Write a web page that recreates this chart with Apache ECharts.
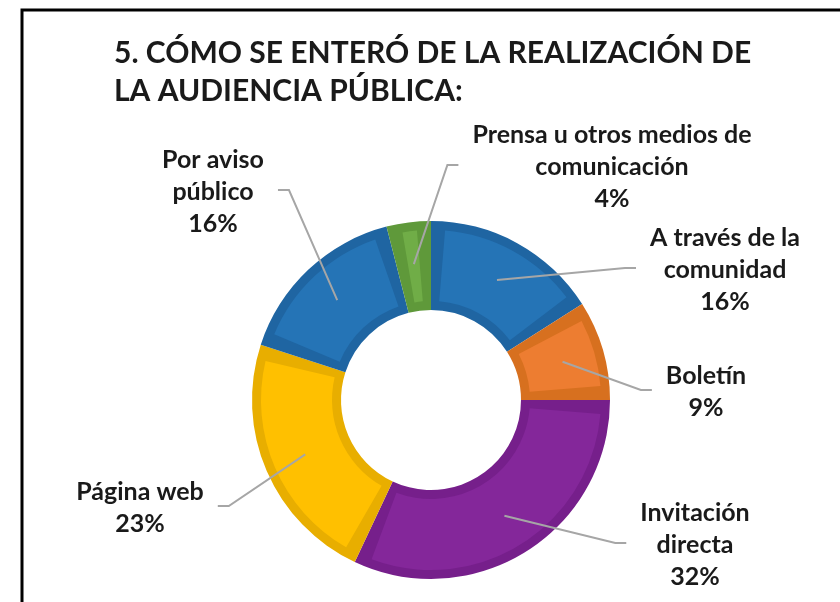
<!DOCTYPE html>
<html>
<head>
<meta charset="utf-8">
<title>Cómo se enteró de la audiencia pública</title>
<script src="https://cdn.jsdelivr.net/npm/echarts@6/dist/echarts.min.js"></script>
<style>
    html, body { margin: 0; padding: 0; background: #fff; }
    #chart { width: 840px; height: 602px; }
</style>
</head>
<body>
<div id="chart"></div>
<script>
    var categories = ['A través de la\ncomunidad', 'Boletín', 'Invitación\ndirecta', 'Página web', 'Por aviso\npúblico', 'Prensa u otros medios de\ncomunicación'];
    var percents = [16, 9, 32, 23, 16, 4];
    var fillColors = ['#2574b6', '#ed7d31', '#84279a', '#ffc000', '#2574b6', '#70ad47'];
    var edgeColors = ['#1f65a2', '#d7701f', '#761f8b', '#e8ae00', '#1f65a2', '#5f993a'];
    // label block centres, as offsets from the ring centre
    var labelOffsets = [[294, -130], [275, -8], [264, 145], [-291, 108], [-218, -208], [181, -233]];

    var cx = 431, cy = 400;
    var chart = echarts.init(document.getElementById('chart'));

    function slices(colors) {
        return categories.map(function (c, i) {
            return { name: c, value: percents[i], itemStyle: { color: colors[i] } };
        });
    }

    var option = {
        animation: false,
        title: {
            text: '5. CÓMO SE ENTERÓ DE LA REALIZACIÓN DE\nLA AUDIENCIA PÚBLICA:',
            left: 109,
            top: 29,
            textStyle: { fontFamily: 'Lato', fontWeight: 'bold', fontSize: 30, lineHeight: 38, color: '#1a1a1a' }
        },
        graphic: [{
            type: 'polyline',
            shape: { points: [[22, 602], [22, 10], [840, 10]] },
            style: { stroke: '#000', lineWidth: 3, fill: null }
        }],
        series: [
            {
                // darker rim of every slice
                type: 'pie',
                center: [cx, cy],
                radius: [90, 179],
                startAngle: 90,
                silent: true,
                z: 2,
                label: { show: false },
                labelLine: { show: false },
                data: slices(edgeColors)
            },
            {
                // lighter body of every slice
                type: 'pie',
                center: [cx, cy],
                radius: [99, 170],
                startAngle: 90,
                padAngle: 9.5,
                silent: true,
                z: 3,
                label: { show: false },
                labelLine: { show: false },
                data: slices(fillColors)
            },
            {
                // invisible copy on top, carries the labels and leader lines
                type: 'pie',
                center: [cx, cy],
                radius: [99, 170],
                startAngle: 90,
                silent: true,
                z: 4,
                avoidLabelOverlap: false,
                itemStyle: { color: 'rgba(0,0,0,0)' },
                label: {
                    show: true,
                    position: 'outside',
                    formatter: '{b}\n{c}%',
                    fontFamily: 'Lato',
                    fontWeight: 'bold',
                    fontSize: 25,
                    lineHeight: 32,
                    color: '#1a1a1a'
                },
                labelLine: { show: true, length: 10, length2: 10, lineStyle: { color: '#a6a6a6', width: 2 } },
                labelLayout: function (p) {
                    var off = labelOffsets[p.dataIndex];
                    var x = cx + off[0], y = cy + off[1];
                    var side = off[0] >= 0 ? 1 : -1;
                    var a = p.labelLinePoints[0];
                    var dx = a[0] - cx, dy = a[1] - cy;
                    var len = Math.sqrt(dx * dx + dy * dy);
                    var start = [cx + dx / len * 137, cy + dy / len * 137];
                    var endX = x - side * (p.labelRect.width / 2 + 14);
                    var bendX = endX - side * 11;
                    return {
                        x: x, y: y, align: 'center', verticalAlign: 'middle',
                        labelLinePoints: [start, [bendX, y - 2], [endX, y - 2]]
                    };
                },
                data: categories.map(function (c, i) {
                    return { name: c, value: percents[i] };
                })
            }
        ]
    };
    chart.setOption(option);
</script>
</body>
</html>
